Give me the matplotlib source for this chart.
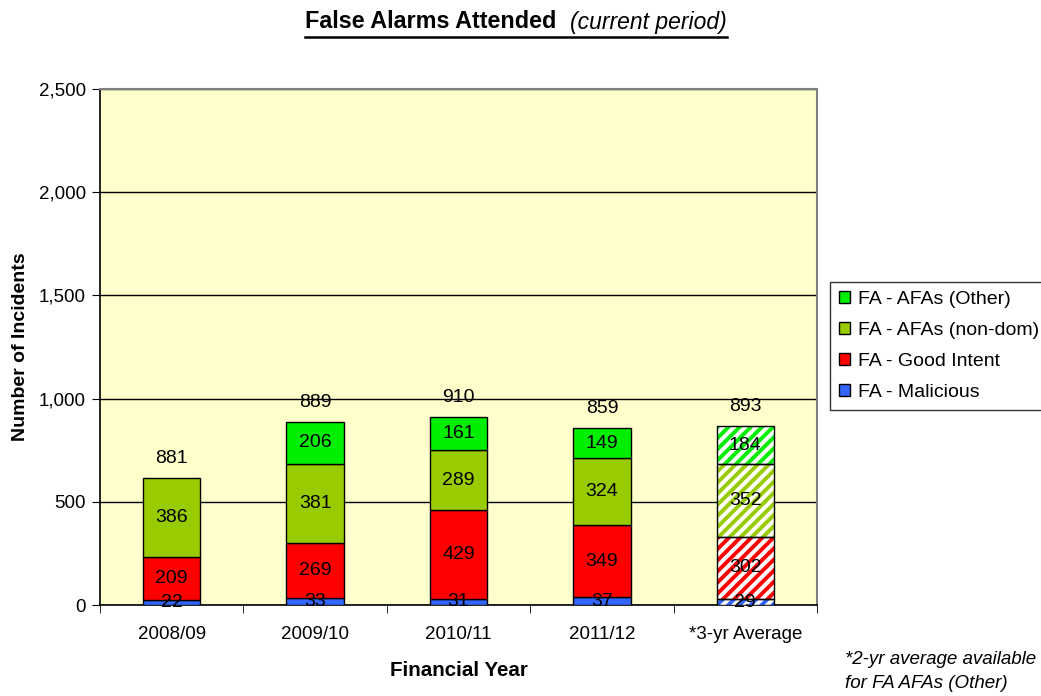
import matplotlib
matplotlib.use("Agg")
import matplotlib.pyplot as plt
import numpy as np
from matplotlib.patches import Patch

plt.rcParams['font.family'] = ['Liberation Sans', 'DejaVu Sans']
plt.rcParams['hatch.linewidth'] = 2.8

categories = ["2008/09", "2009/10", "2010/11", "2011/12", "*3-yr Average"]
malicious = [22, 33, 31, 37, 29]
good_intent = [209, 269, 429, 349, 302]
afa_nondom = [386, 381, 289, 324, 352]
afa_other = [0, 206, 161, 149, 184]
totals = [881, 889, 910, 859, 893]

series = [
    ("FA - Malicious", malicious, "#3366FF"),
    ("FA - Good Intent", good_intent, "#FF0000"),
    ("FA - AFAs (non-dom)", afa_nondom, "#99CC00"),
    ("FA - AFAs (Other)", afa_other, "#00EE00"),
]
hatched = [False, False, False, False, True]

fig = plt.figure(figsize=(10.41, 6.96), dpi=100)
ax = fig.add_axes([100/1041, 1-605/696, 717/1041, (605-89)/696])
ax.set_facecolor("#FFFFCC")

x = np.arange(len(categories))
w = 0.4
bottom = np.zeros(len(categories))
for name, vals, col in series:
    vals = np.array(vals, dtype=float)
    for i in range(len(categories)):
        if vals[i] <= 0:
            continue
        if hatched[i]:
            ax.bar(x[i], vals[i], w, bottom=bottom[i], facecolor="white",
                   edgecolor=col, hatch="///", linewidth=0, zorder=3)
            ax.bar(x[i], vals[i], w, bottom=bottom[i], fill=False,
                   edgecolor="black", linewidth=1, zorder=4)
        else:
            ax.bar(x[i], vals[i], w, bottom=bottom[i], color=col,
                   edgecolor="black", linewidth=1, zorder=3)
        ax.text(x[i], bottom[i] + vals[i] / 2, f"{int(vals[i])}", ha="center",
                va="center", fontsize=14, zorder=5)
    bottom += vals

for i in range(len(categories)):
    ax.annotate(f"{totals[i]}", (x[i], bottom[i]), xytext=(0, 14),
                textcoords="offset points", ha="center", va="center",
                fontsize=14, zorder=5)

ax.set_xlim(-0.5, len(categories) - 0.5)
ax.set_ylim(0, 2500)
ax.set_yticks(np.arange(0, 2501, 500))
ax.set_yticklabels([f"{v:,}" for v in range(0, 2501, 500)], fontsize=13.5)
ax.yaxis.grid(True, color="black", linewidth=1, zorder=1)
ax.set_axisbelow(True)
ax.set_xticks(x)
ax.set_xticklabels(categories, fontsize=13.5)
ax.tick_params(axis="x", length=0, pad=15)
ax.set_xticks(np.arange(-0.5, len(categories)), minor=True)
ax.tick_params(axis="x", which="minor", length=6, direction="out")
ax.tick_params(axis="y", length=6, direction="out", pad=4)
for s in ["top", "right"]:
    ax.spines[s].set_color("#808080")
    ax.spines[s].set_linewidth(1.5)
for s in ["left", "bottom"]:
    ax.spines[s].set_color("black")
    ax.spines[s].set_linewidth(1.2)

ax.set_xlabel("Financial Year", fontsize=14.8, fontweight="bold", labelpad=13)
ax.set_ylabel("Number of Incidents", fontsize=14, fontweight="bold", labelpad=7)

handles = [Patch(facecolor=col, edgecolor="black", label=name) for name, _, col in series][::-1]
leg = fig.legend(handles=handles, loc="upper left", bbox_to_anchor=(830/1041, 1-282/696),
                 fontsize=14, frameon=True, fancybox=False, edgecolor="black",
                 handlelength=0.6, handleheight=0.6, handletextpad=0.4,
                 labelspacing=0.72, borderpad=0.45, borderaxespad=0)
leg.get_frame().set_linewidth(1)

fig.text(305/1041, 1-22/696, "False Alarms Attended", fontsize=16.8,
         fontweight="bold", ha="left", va="center")
fig.text(570/1041, 1-22/696, "(current period)", fontsize=16.5,
         style="italic", ha="left", va="center")
fig.add_artist(plt.Line2D([305/1041, 727/1041], [1-37/696, 1-37/696],
                          color="black", linewidth=1.8, transform=fig.transFigure))

fig.text(845/1041, 1-660/696, "*2-yr average available", fontsize=13.5,
         style="italic", ha="left", va="center")
fig.text(845/1041, 1-684/696, "for FA AFAs (Other)", fontsize=13.5,
         style="italic", ha="left", va="center")

fig.savefig("out.png", dpi=100)
